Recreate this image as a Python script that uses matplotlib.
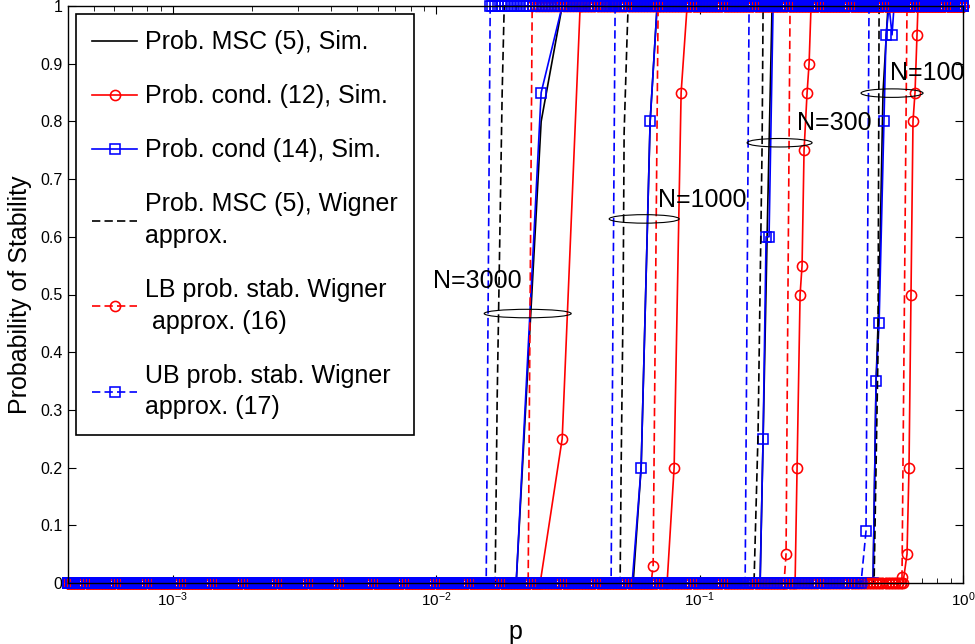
import numpy as np
import matplotlib
matplotlib.use("Agg")
import matplotlib.pyplot as plt
from matplotlib.patches import Ellipse

plt.rcParams['font.family'] = ['Liberation Sans', 'DejaVu Sans']
plt.rcParams['mathtext.default'] = 'regular'

# grid of p values at which the curves were evaluated (log spaced)
p_min, p_max = 4e-4, 1.0
p_grid = np.logspace(np.log10(p_min), np.log10(p_max), 290)

n_values = [3000, 1000, 300, 100]

# transition points, one list per N (3000, 1000, 300, 100)
# below the first point a curve sits at 0, above the last point at 1
msc_sim_p = [[0.02012, 0.02503, 0.03008],
             [0.05593, 0.05998, 0.06489, 0.06897],
             [0.1697, 0.1742, 0.1804, 0.1884],
             [0.4555, 0.4677, 0.4802, 0.4970, 0.5192]]
msc_sim_y = [[0, 0.80, 1],
             [0, 0.20, 0.80, 1],
             [0, 0.25, 0.60, 1],
             [0, 0.35, 0.50, 0.85, 1]]

cond12_sim_p = [[0.02481, 0.03008, 0.03520],
                [0.07526, 0.08003, 0.08508, 0.08965],
                [0.2304, 0.2344, 0.2407, 0.2449, 0.2492, 0.2559, 0.2604, 0.2649],
                [0.5918, 0.6130, 0.6237, 0.6347, 0.6459, 0.6574, 0.6689, 0.6748]]
cond12_sim_y = [[0, 0.25, 1],
                [0, 0.20, 0.85, 1],
                [0, 0.20, 0.50, 0.55, 0.75, 0.85, 0.90, 1],
                [0, 0.05, 0.20, 0.50, 0.80, 0.85, 0.95, 1]]

cond14_sim_p = [[0.02012, 0.02503, 0.03008],
                [0.05544, 0.05998, 0.06489, 0.06897],
                [0.1697, 0.1742, 0.1788, 0.1835, 0.1901],
                [0.4555, 0.4677, 0.4802, 0.5014, 0.5103, 0.5239, 0.5378, 0.5473]]
cond14_sim_y = [[0, 0.85, 1],
                [0, 0.20, 0.80, 1],
                [0, 0.25, 0.60, 0.60, 1],
                [0, 0.35, 0.45, 0.80, 0.95, 1, 0.95, 1]]

msc_wig_p = [[0.01674, 0.01704, 0.01780, 0.01812],
             [0.04991, 0.05036, 0.05124, 0.05169, 0.05307, 0.05354],
             [0.1609, 0.1667, 0.1727, 0.1742],
             [0.4596, 0.4757, 0.4802]]
msc_wig_y = [[0, 0.32, 0.85, 1],
             [0, 0.20, 0.49, 0.78, 0.95, 1],
             [0, 0.26, 0.76, 1],
             [0, 0.40, 1]]

lb_wig_p = [[0.02234, 0.02314],
            [0.06546, 0.06661, 0.06958],
            [0.2092, 0.2129, 0.2205],
            [0.5815, 0.5867, 0.6130]]
lb_wig_y = [[0, 1],
            [0, 0.03, 1],
            [0, 0.05, 1],
            [0, 0.01, 1]]

ub_wig_p = [[0.01548, 0.01603],
            [0.04613, 0.04778],
            [0.1489, 0.1541],
            [0.4101, 0.4283, 0.4397]]
ub_wig_y = [[0, 1],
            [0, 1],
            [0, 1],
            [0, 0.09, 1]]

labels = ['Prob. MSC (5), Sim.',
          'Prob. cond. (12), Sim.',
          'Prob. cond (14), Sim.',
          'Prob. MSC (5), Wigner\napprox.',
          'LB prob. stab. Wigner\n approx. (16)',
          'UB prob. stab. Wigner\napprox. (17)']

# N label text (left, baseline) and ellipse centre, in data units
n_text_p = [0.00974, 0.06958, 0.2344, 0.528]
n_text_y = [0.511, 0.652, 0.785, 0.872]
ell_p = [0.02225, 0.0616, 0.2012, 0.5378]
ell_y = [0.467, 0.631, 0.763, 0.849]
ell_w_px = [87, 70, 65, 62]


def full_curve(p_pts, y_pts):
    p_pts = np.asarray(p_pts, dtype=float)
    y_pts = np.asarray(y_pts, dtype=float)
    lo = p_grid[p_grid < p_pts[0] * 0.995]
    hi = p_grid[p_grid > p_pts[-1] * 1.005]
    p = np.concatenate([lo, p_pts, hi])
    y = np.concatenate([np.zeros(len(lo)), y_pts, np.ones(len(hi))])
    return p, y


fig = plt.figure(figsize=(9.75, 6.44), dpi=100)
ax = fig.add_axes([68 / 975, 1 - 583 / 644, 895 / 975, 577 / 644])
ax.set_xscale('log')

styles = [
    (msc_sim_p, msc_sim_y, dict(color='k', ls='-', marker='None')),
    (cond12_sim_p, cond12_sim_y, dict(color='r', ls='-', marker='o', ms=7.3)),
    (cond14_sim_p, cond14_sim_y, dict(color='b', ls='-', marker='s', ms=6.5)),
    (msc_wig_p, msc_wig_y, dict(color='k', ls='--', dashes=(5, 2.5), marker='None')),
    (lb_wig_p, lb_wig_y, dict(color='r', ls='--', dashes=(5, 2.5), marker='o', ms=7.3)),
    (ub_wig_p, ub_wig_y, dict(color='b', ls='--', dashes=(5, 2.5), marker='s', ms=6.5)),
]

handles = []
for (ps, ys, st), lab in zip(styles, labels):
    for i in range(len(n_values)):
        p, y = full_curve(ps[i], ys[i])
        ln, = ax.plot(p, y, lw=1.2, mfc='none', mew=1.15, clip_on=False, **st)
        if i == 0:
            ln.set_label(lab)
            handles.append(ln)

ax.set_xlim(p_min, p_max)
ax.set_ylim(0, 1)

# group annotations
for i, n in enumerate(n_values):
    ax.text(n_text_p[i], n_text_y[i], 'N=%d' % n, fontsize=18, ha='left', va='baseline')
    cx, cy = ax.transAxes.inverted().transform(ax.transData.transform((ell_p[i], ell_y[i])))
    ax.add_patch(Ellipse((cx, cy), ell_w_px[i] / 895, 8.5 / 577, transform=ax.transAxes,
                         fill=False, ec='k', lw=0.8, zorder=5))

ax.set_yticks(np.arange(0, 1.01, 0.1))
ax.set_yticklabels(['0', '0.1', '0.2', '0.3', '0.4', '0.5', '0.6', '0.7', '0.8', '0.9', '1'])
ax.tick_params(which='both', direction='in', top=True, right=True, labelsize=11.5, pad=4)
ax.tick_params(axis='x', labelsize=11, pad=5)
ax.tick_params(which='major', length=6)
ax.tick_params(which='minor', length=3.5)
for s in ax.spines.values():
    s.set_linewidth(1.0)

ax.set_xlabel('p', fontsize=18, labelpad=8)
ax.set_ylabel('Probability of Stability', fontsize=18, labelpad=6)

leg = ax.legend(handles=handles, loc='upper left', bbox_to_anchor=(0.009, 0.986),
                borderaxespad=0, fontsize=18, fancybox=False, framealpha=1,
                edgecolor='k', labelspacing=1.2, handlelength=1.8, handletextpad=0.3,
                borderpad=0.65)
for t in leg.get_texts():
    t.set_linespacing(1.4)
leg.get_frame().set_linewidth(1.2)
leg.set_zorder(10)

fig.savefig('out.png', dpi=100)
